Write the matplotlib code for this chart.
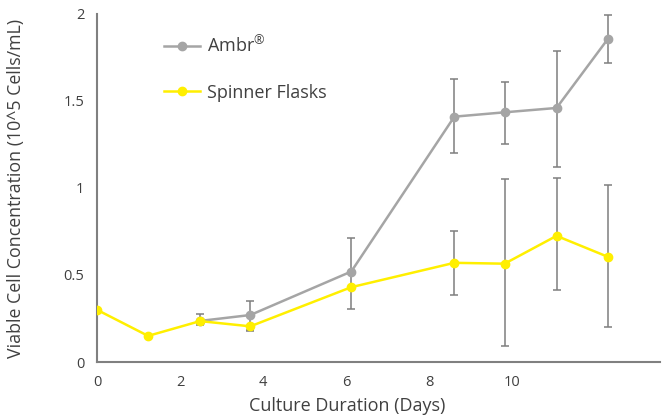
import matplotlib
matplotlib.use("Agg")
import matplotlib.pyplot as plt

plt.rcParams['font.family'] = ['Open Sans', 'DejaVu Sans']
plt.rcParams['mathtext.fontset'] = 'custom'
plt.rcParams['mathtext.rm'] = 'Open Sans'

# Data
ambr_days = [2.48, 3.69, 6.12, 8.6, 9.81, 11.06, 12.29]
ambr_vals = [0.236, 0.27, 0.52, 1.41, 1.435, 1.46, 1.855]
ambr_err_low = [0.023, 0.09, 0.215, 0.21, 0.18, 0.34, 0.135]
ambr_err_high = [0.041, 0.08, 0.195, 0.215, 0.175, 0.33, 0.14]

spin_days = [0.0, 1.23, 2.48, 3.69, 6.12, 8.6, 9.81, 11.06, 12.29]
spin_vals = [0.30, 0.15, 0.235, 0.205, 0.43, 0.57, 0.565, 0.725, 0.605]
spin_err_low = [0, 0, 0, 0.02, 0, 0.184, 0.475, 0.31, 0.405]
spin_err_high = [0, 0, 0, 0, 0, 0.185, 0.485, 0.33, 0.415]

xticks = [0, 2, 4, 6, 8, 10]
yticks = [0, 0.5, 1, 1.5, 2]
ytick_labels = ['0', '0.5', '1', '1.5', '2']

gray = '#A5A5A5'
yellow = '#FFEF00'
errc = '#7F7F7F'
txt = '#404040'

fig = plt.figure(figsize=(6.67, 4.2), dpi=100)
ax = fig.add_axes([97/667, 58/420, 563/667, 348/420])

ax.errorbar(ambr_days, ambr_vals, yerr=[ambr_err_low, ambr_err_high], fmt='none',
            ecolor=errc, elinewidth=1.1, capsize=2.6, capthick=1.1, zorder=2)
ax.errorbar(spin_days, spin_vals, yerr=[spin_err_low, spin_err_high], fmt='none',
            ecolor=errc, elinewidth=1.1, capsize=2.6, capthick=1.1, zorder=2)
ax.plot(ambr_days, ambr_vals, color=gray, lw=1.8, marker='o', ms=6, label='Ambr$^{®}$', zorder=3)
ax.plot(spin_days, spin_vals, color=yellow, lw=1.8, marker='o', ms=6, label='Spinner Flasks', zorder=4)

ax.set_xlim(0, 13.55)
ax.set_ylim(0, 2)
ax.set_xticks(xticks)
ax.set_yticks(yticks)
ax.set_yticklabels(ytick_labels)
ax.tick_params(length=0, labelsize=10.5, labelcolor=txt, pad=9)
for s in ['top', 'right']:
    ax.spines[s].set_visible(False)
for s in ['left', 'bottom']:
    ax.spines[s].set_color('#808080')
    ax.spines[s].set_linewidth(1.5)

ax.set_xlabel('Culture Duration (Days)', fontsize=13, color=txt)
ax.set_ylabel('Viable Cell Concentration (10^5 Cells/mL)', fontsize=12.8, color=txt)
ax.xaxis.set_label_coords(250/563, -35/348)
ax.yaxis.set_label_coords(-72/563, 0.5)

leg = ax.legend(loc='upper left', bbox_to_anchor=(0.09, 0.985), frameon=False, fontsize=13,
                labelspacing=1.5, handlelength=2.0, handletextpad=0.4, labelcolor=txt)

fig.savefig('out.png', dpi=100)
